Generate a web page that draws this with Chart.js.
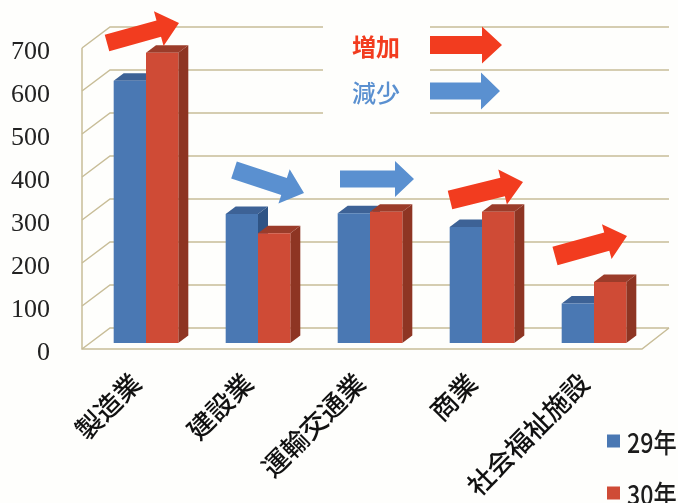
<!DOCTYPE html>
<html lang="ja">
<head>
<meta charset="utf-8">
<title>業種別グラフ</title>
<style>
  html, body { margin: 0; padding: 0; background: #fefefc; overflow: hidden; }
  canvas { display: block; }
</style>
</head>
<body>
<canvas id="industryChart" width="678" height="503"></canvas>
<script src="https://cdn.jsdelivr.net/npm/chart.js@4/dist/chart.umd.min.js"></script>
<script>
  const categories = ['製造業', '建設業', '運輸交通業', '商業', '社会福祉施設'];
  const values29 = [610, 300, 302, 270, 92];
  const values30 = [675, 255, 305, 305, 142];
  const seriesNames = ['29年', '30年'];
  const yTicks = [0, 100, 200, 300, 400, 500, 600, 700];

  const jpFont = '"Noto Sans CJK JP", "Noto Sans", sans-serif';
  const gridColor = '#c8bd98';
  const red = '#f23c1f';
  const blue = '#5a90d0';

  // front, side and top colours of the boxes
  const faces = [
    { front: '#4a78b3', side: '#2f5485', top: '#3d6296' },
    { front: '#cf4b36', side: '#8e3523', top: '#9b3c2a' }
  ];

  // trend arrows: tail, tip, body width, head length, head width
  const trendArrows = [
    { color: red, from: [107, 43], to: [179, 23], body: 17, headLen: 21, headW: 36 },
    { color: blue, from: [234, 170], to: [304, 193], body: 18, headLen: 21, headW: 36 },
    { color: blue, from: [340, 179], to: [414, 179], body: 17, headLen: 19, headW: 36 },
    { color: red, from: [450, 200], to: [523, 182], body: 19, headLen: 21, headW: 36 },
    { color: red, from: [555, 256], to: [627, 236], body: 19, headLen: 21, headW: 36 },
    { color: red, from: [430, 45], to: [502, 45], body: 18, headLen: 20, headW: 37 },
    { color: blue, from: [430, 91], to: [500, 91], body: 17, headLen: 19, headW: 37 }
  ];

  function drawArrow(ctx, a) {
    const dx = a.to[0] - a.from[0];
    const dy = a.to[1] - a.from[1];
    const len = Math.hypot(dx, dy);
    ctx.save();
    ctx.translate(a.from[0], a.from[1]);
    ctx.rotate(Math.atan2(dy, dx));
    ctx.fillStyle = a.color;
    ctx.beginPath();
    ctx.moveTo(0, -a.body / 2);
    ctx.lineTo(len - a.headLen, -a.body / 2);
    ctx.lineTo(len - a.headLen, -a.headW / 2);
    ctx.lineTo(len, 0);
    ctx.lineTo(len - a.headLen, a.headW / 2);
    ctx.lineTo(len - a.headLen, a.body / 2);
    ctx.lineTo(0, a.body / 2);
    ctx.closePath();
    ctx.fill();
    ctx.restore();
  }

  function fillPoly(ctx, color, pts) {
    ctx.fillStyle = color;
    ctx.beginPath();
    pts.forEach(function (p, i) {
      if (i === 0) ctx.moveTo(p[0], p[1]);
      else ctx.lineTo(p[0], p[1]);
    });
    ctx.closePath();
    ctx.fill();
  }

  // Fake 3D: box walls and floor behind the bars, extruded sides and tops
  const wall = { dx: 28, dy: -21, backRight: 669 };
  const barPlane = { dx: 8, dy: -6 };
  const depth = { dx: 10, dy: -7.5 };

  const box3d = {
    id: 'box3d',
    beforeDatasetsDraw(chart) {
      const ctx = chart.ctx;
      const area = chart.chartArea;
      const yScale = chart.scales.y;

      ctx.save();
      ctx.strokeStyle = gridColor;
      ctx.lineWidth = 1.5;
      yTicks.forEach(function (v) {
        const y = yScale.getPixelForValue(v);
        ctx.beginPath();
        ctx.moveTo(area.left, y);
        ctx.lineTo(area.left + wall.dx, y + wall.dy);
        ctx.lineTo(wall.backRight, y + wall.dy);
        ctx.stroke();
      });
      ctx.beginPath();
      ctx.moveTo(area.left, yScale.getPixelForValue(700));
      ctx.lineTo(area.left, area.bottom);
      ctx.lineTo(area.right, area.bottom);
      ctx.lineTo(wall.backRight, area.bottom + wall.dy);
      ctx.stroke();

      // the key sits on a white panel that hides the upper grid lines
      ctx.fillStyle = '#fefefc';
      ctx.fillRect(323, 18, 107, 110);

      ctx.translate(barPlane.dx, barPlane.dy);
      chart.data.datasets.forEach(function (ds, i) {
        const c = faces[i];
        chart.getDatasetMeta(i).data.forEach(function (bar) {
          const half = bar.width / 2;
          const l = bar.x - half;
          const r = bar.x + half;
          fillPoly(ctx, c.side, [[r, bar.y], [r + depth.dx, bar.y + depth.dy],
            [r + depth.dx, bar.base + depth.dy], [r, bar.base]]);
          fillPoly(ctx, c.top, [[l, bar.y], [l + depth.dx, bar.y + depth.dy],
            [r + depth.dx, bar.y + depth.dy], [r, bar.y]]);
        });
      });
      ctx.restore();

      ctx.save();
      ctx.translate(barPlane.dx, barPlane.dy);
    },
    afterDatasetsDraw(chart) {
      const ctx = chart.ctx;
      ctx.restore();

      trendArrows.forEach(function (a) { drawArrow(ctx, a); });

      ctx.save();
      ctx.textAlign = 'left';
      ctx.textBaseline = 'middle';
      ctx.font = 'bold 24px ' + jpFont;
      ctx.fillStyle = red;
      ctx.fillText('増加', 352, 47);
      ctx.font = '500 24px ' + jpFont;
      ctx.fillStyle = blue;
      ctx.fillText('減少', 352, 93);

      // series key, drawn in a narrowed face
      seriesNames.forEach(function (name, i) {
        const y = 441 + i * 52;
        ctx.fillStyle = faces[i].front;
        ctx.fillRect(607, y - 6.5, 13, 13);
        ctx.save();
        ctx.translate(627, y);
        ctx.scale(0.86, 1);
        ctx.fillStyle = '#1c1c1c';
        ctx.font = '500 27px ' + jpFont;
        ctx.fillText(name, 0, 2);
        ctx.restore();
      });
      ctx.restore();
    }
  };

  new Chart(document.getElementById('industryChart'), {
    type: 'bar',
    data: {
      labels: categories,
      datasets: [
        { label: seriesNames[0], data: values29, backgroundColor: faces[0].front },
        { label: seriesNames[1], data: values30, backgroundColor: faces[1].front }
      ]
    },
    options: {
      responsive: false,
      animation: false,
      categoryPercentage: 0.577,
      barPercentage: 1,
      layout: { padding: { top: 48, right: 36, left: 0, bottom: 0 } },
      plugins: {
        legend: { display: false },
        tooltip: { enabled: false }
      },
      scales: {
        x: {
          grid: { display: false },
          border: { display: false },
          afterFit(scale) { scale.height = 154; },
          ticks: {
            minRotation: 45,
            maxRotation: 45,
            autoSkip: false,
            padding: 10,
            labelOffset: -2,
            color: '#111',
            font: { family: jpFont, size: 26.5, weight: '500' }
          }
        },
        y: {
          min: 0,
          max: 700,
          grid: { display: false },
          border: { display: false },
          afterFit(scale) { scale.width = 82; },
          afterBuildTicks(scale) {
            scale.ticks = yTicks.map(function (v) { return { value: v }; });
          },
          ticks: {
            padding: 24,
            labelOffset: 4,
            color: '#222',
            font: { family: '"Liberation Serif", serif', size: 26 }
          }
        }
      }
    },
    plugins: [box3d]
  });
</script>
</body>
</html>
